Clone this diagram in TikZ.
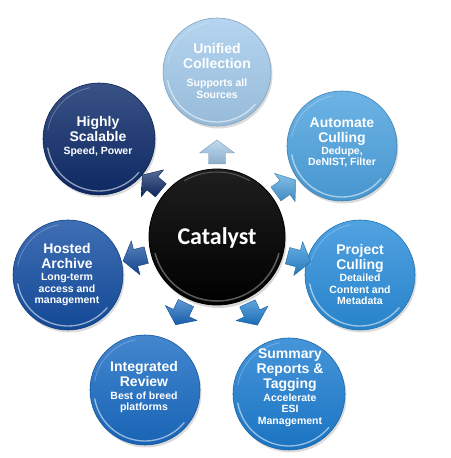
\documentclass[tikz,border=0pt]{standalone}
\usepackage{fontspec}
\setmainfont{Liberation Sans}
\newfontfamily\catfont{Carlito}
\usetikzlibrary{calc,shadows}
\definecolor{cA}{HTML}{A4CBEC}
\definecolor{cB}{HTML}{4DA3E0}
\definecolor{cC}{HTML}{2B8EDB}
\definecolor{cD}{HTML}{1D7ED2}
\definecolor{cE}{HTML}{1A6CC4}
\definecolor{cF}{HTML}{154FA3}
\definecolor{cG}{HTML}{0E2C6B}
\tikzset{
  bubble/.style={circle, inner sep=0pt, draw=#1!80!black, line width=0.6pt,
    top color=#1!82!white, bottom color=#1!92!black,
    drop shadow={shadow xshift=1.5pt, shadow yshift=-2.5pt, opacity=0.28}},
  rimline/.style={white, opacity=0.55, line width=1.3pt, line cap=round},
  txt/.style={align=center, text=white, inner sep=0pt,
    font=\bfseries\fontsize{14}{15}\selectfont},
  pics/blkarrow/.style={code={
    \shade[top color=#1!70!white, bottom color=#1!85!black, draw=#1!75!black, line width=0.4pt, line join=round]
      (-11,-8.5) -- (0,-8.5) -- (0,-17.5) -- (13,0) -- (0,17.5) -- (0,8.5) -- (-11,8.5) -- cycle;
  }}
}
\newcommand\sbt[1]{{\fontsize{10.5}{11.5}\selectfont #1}}
\begin{document}
\begin{tikzpicture}[x=1pt,y=1pt]
\useasboundingbox (0,0) rectangle (450,458);
\fill[white] (0,0) rectangle (450,458);

% outer circles
\node[bubble=cA, minimum size=108pt] (c1) at (217,386) {};
\node[bubble=cB, minimum size=110pt] (c2) at (342,312) {};
\node[bubble=cC, minimum size=110pt] (c3) at (360,183) {};
\node[bubble=cD, minimum size=112pt] (c4) at (289,64) {};
\node[bubble=cE, minimum size=110pt] (c5) at (145,68) {};
\node[bubble=cF, minimum size=110pt] (c6) at (68,183) {};
\node[bubble=cG, minimum size=112pt] (c7) at (99,319) {};

% rim highlights
\foreach \c/\r in {c1/50,c2/51,c3/51,c4/52,c5/51,c6/51,c7/52}{
  \draw[rimline] ($(\c)+(190:\r)$) arc[start angle=190, end angle=320, radius=\r];
  \draw[white, opacity=0.25, line width=0.8pt] ($(\c)+(100:\r)$) arc[start angle=100, end angle=170, radius=\r];
}

% center circle
\node[circle, inner sep=0pt, minimum size=136pt, draw=black, line width=0.8pt,
  top color=black!88, bottom color=black,
  drop shadow={shadow xshift=1.5pt, shadow yshift=-3pt, opacity=0.3}] (cat) at (217,221) {};
\draw[white, opacity=0.35, line width=1.5pt, line cap=round]
  ($(cat)+(195:64)$) arc[start angle=195, end angle=345, radius=64];
\draw[white, opacity=0.25, line width=1pt, line cap=round]
  ($(cat)+(60:65)$) arc[start angle=60, end angle=120, radius=65];
\node[text=white, inner sep=0pt, font=\catfont\bfseries\fontsize{24}{26}\selectfont] (catt) at (217,220) {Catalyst};

% block arrows
\foreach \c/\col in {c1/cA, c2/cB, c3/cC, c4/cD, c5/cE, c6/cF, c7/cG}{
  \path let \p1=($(\c)-(cat)$), \n1={atan2(\y1,\x1)} in
    pic[rotate=\n1] at ($(cat)!84pt!(\c)$) {blkarrow=\col};
}

% texts
\node[txt] (t1) at (217,387) {Unified\\Collection\\[3pt]\sbt{Supports all}\\[-3.5pt]\sbt{Sources}};
\node[txt] (t2) at (342,315.5) {Automate\\Culling\\[-2.5pt]\sbt{Dedupe,}\\[-3.5pt]\sbt{DeNIST, Filter}};
\node[txt] (t3) at (360,183.5) {Project\\Culling\\[-2.5pt]\sbt{Detailed}\\[-3.5pt]\sbt{Content and}\\[-3.5pt]\sbt{Metadata}};
\node[txt] (t4) at (290,70.5) {Summary\\Reports \&\\Tagging\\[-2.5pt]\sbt{Accelerate}\\[-3.5pt]\sbt{ESI}\\[-3.5pt]\sbt{Management}};
\node[txt] (t5) at (144,70.5) {Integrated\\Review\\[-2.5pt]\sbt{Best of breed}\\[-3.5pt]\sbt{platforms}};
\node[txt] (t6) at (67,183.5) {Hosted\\Archive\\[-2.5pt]\sbt{Long-term}\\[-3.5pt]\sbt{access and}\\[-3.5pt]\sbt{management}};
\node[txt] (t7) at (98,321.5) {Highly\\Scalable\\[-2.5pt]\sbt{Speed, Power}};
\end{tikzpicture}
\end{document}
